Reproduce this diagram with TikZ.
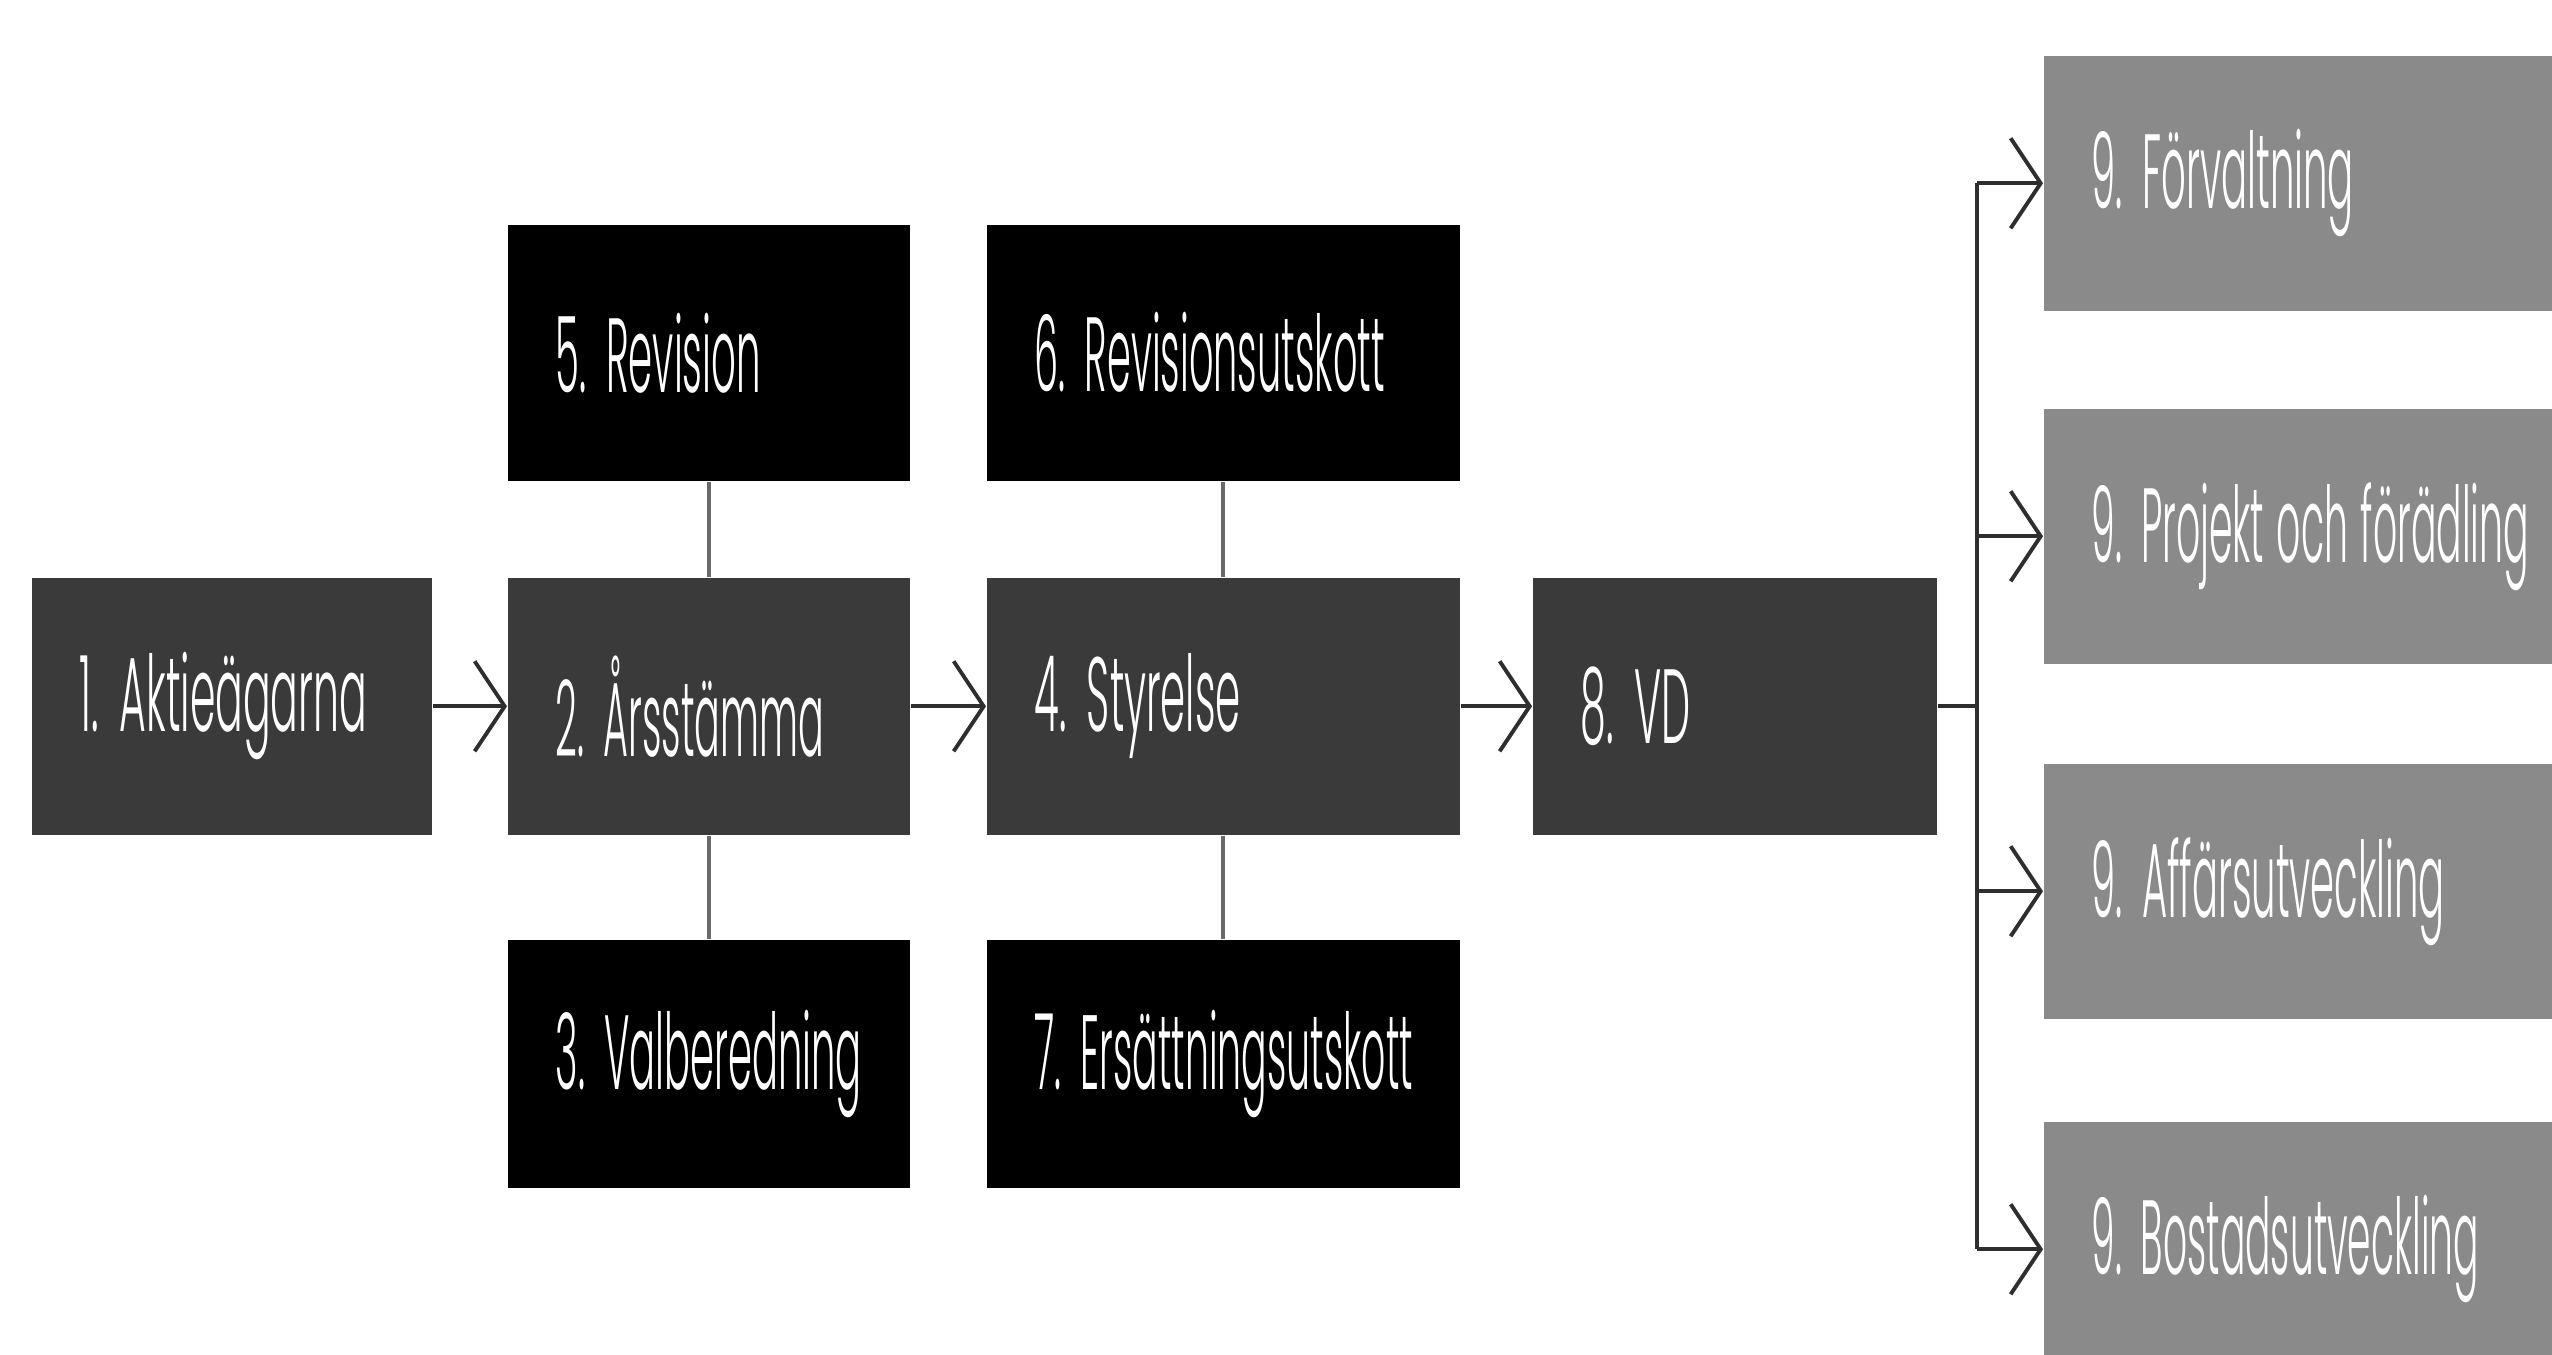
\documentclass[tikz,border=0pt]{standalone}
\usepackage{fontspec}
\setmainfont{Poppins}[UprightFont=* Light]
\usetikzlibrary{arrows.meta}
\definecolor{darkbox}{HTML}{3A3A3A}
\definecolor{graybox}{HTML}{8A8A8A}
\definecolor{blackbox}{HTML}{000000}
\definecolor{conncol}{HTML}{6A6A6A}
\definecolor{arrcol}{HTML}{2E2E2E}
\newcommand\lbl[2]{\resizebox{#1}{\height}{#2}}
\begin{document}
\begin{tikzpicture}[x=0.01cm,y=-0.01cm,
  box/.style={anchor=north west, inner xsep=0.48cm, inner ysep=0pt, align=left,
    text=white, font=\fontsize{30}{36}\selectfont},
  darkb/.style={box, fill=darkbox},
  blackb/.style={box, fill=blackbox},
  grayb/.style={box, fill=graybox},
  conn/.style={draw=conncol, line width=1.1pt},
  arr/.style={draw=arrcol, line width=1.1pt,
    -{Straight Barb[length=0.3cm, width=0.9cm, line width=1.1pt]}},
  trunkline/.style={draw=arrcol, line width=1.1pt}]
\path[use as bounding box] (0,0) rectangle (2552,1355);
\clip (0,0) rectangle (2552,1355);

% main row
\node[darkb, text width=3.04cm, minimum height=2.57cm] (b1) at (31,577) {\lbl{2.87cm}{1. Aktieägarna}};
\node[darkb, text width=3.06cm, minimum height=2.57cm] (b2) at (507,577) {\lbl{2.68cm}{2. Årsstämma}};
\node[darkb, text width=3.77cm, minimum height=2.57cm] (b4) at (986,577) {\lbl{2.06cm}{4. Styrelse}};
\node[darkb, text width=3.08cm, minimum height=2.57cm] (b8) at (1532,577) {\lbl{1.10cm}{8. VD}};

% upper and lower
\node[blackb, text width=3.06cm, minimum height=2.56cm] (b5) at (507,224) {\lbl{2.05cm}{5. Revision}};
\node[blackb, text width=3.77cm, minimum height=2.56cm] (b6) at (986,224) {\lbl{3.50cm}{6. Revisionsutskott}};
\node[blackb, text width=3.06cm, minimum height=2.48cm] (b3) at (507,939) {\lbl{3.06cm}{3. Valberedning}};
\node[blackb, text width=3.77cm, minimum height=2.48cm] (b7) at (986,939) {\lbl{3.78cm}{7. Ersättningsutskott}};

% right column
\node[grayb, text width=5.61cm, minimum height=2.55cm] (b9a) at (2043,55) {\lbl{2.62cm}{9. Förvaltning}};
\node[grayb, text width=5.61cm, minimum height=2.55cm] (b9b) at (2043,408) {\lbl{4.37cm}{9. Projekt och förädling}};
\node[grayb, text width=5.61cm, minimum height=2.55cm] (b9c) at (2043,763) {\lbl{3.53cm}{9. Affärsutveckling}};
\node[grayb, text width=5.61cm, minimum height=2.55cm] (b9d) at (2043,1121) {\lbl{3.87cm}{9. Bostadsutveckling}};

% vertical connectors
\draw[conn] (b5) -- (b2);
\draw[conn] (b2) -- (b3);
\draw[conn] (b6) -- (b4);
\draw[conn] (b4) -- (b7);

% arrows along main row
\draw[arr] (b1) -- (b2);
\draw[arr] (b2) -- (b4);
\draw[arr] (b4) -- (b8);

% trunk to right column
\coordinate (trunk) at (1977,705);
\draw[trunkline] (b8.east) -- (b8.east -| trunk);
\draw[trunkline] (trunk |- b9a.west) -- (trunk |- b9d.west);
\draw[arr] (trunk |- b9a.west) -- (b9a.west);
\draw[arr] (trunk |- b9b.west) -- (b9b.west);
\draw[arr] (trunk |- b9c.west) -- (b9c.west);
\draw[arr] (trunk |- b9d.west) -- (b9d.west);
\end{tikzpicture}
\end{document}
